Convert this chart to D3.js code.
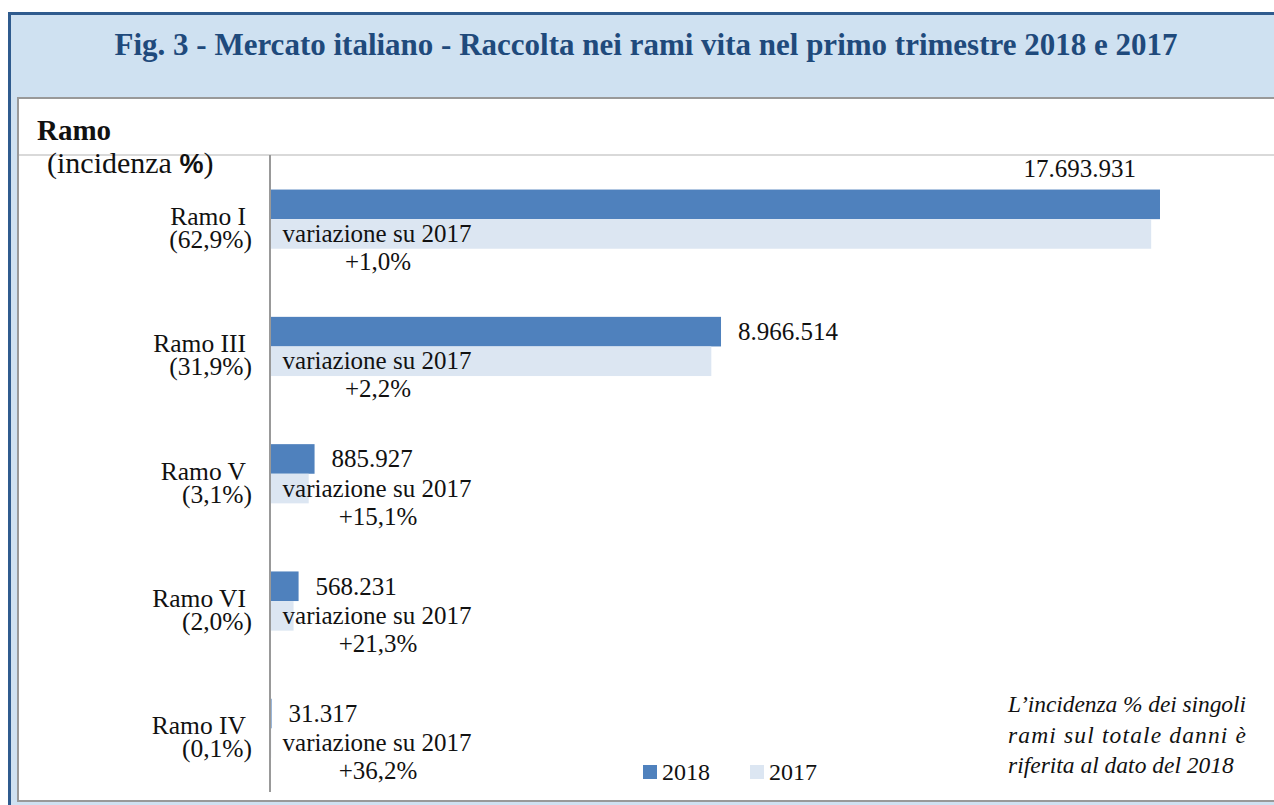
<!DOCTYPE html>
<html>
<head>
<meta charset="utf-8">
<script src="https://cdn.jsdelivr.net/npm/d3@7"></script>
<style>
  html, body { margin: 0; padding: 0; background: #ffffff; }
  svg { display: block; }
  text { font-family: "Liberation Serif", "Times New Roman", serif; fill: #111; }
</style>
</head>
<body>
<svg id="chart" width="1274" height="805"></svg>
<script>
// ---- data ----
const categories = ["Ramo I", "Ramo III", "Ramo V", "Ramo VI", "Ramo IV"];
const incidence = ["(62,9%)", "(31,9%)", "(3,1%)", "(2,0%)", "(0,1%)"];
const values2018 = [17693931, 8966514, 885927, 568231, 31317];
const values2017 = [17518744, 8773497, 769703, 468451, 22993];
const valueLabels2018 = ["17.693.931", "8.966.514", "885.927", "568.231", "31.317"];
const changeLabels = ["+1,0%", "+2,2%", "+15,1%", "+21,3%", "+36,2%"];
const seriesNames = ["2018", "2017"];
const colors = ["#4f81bd", "#dce6f2"];
const titleText = "Fig. 3 - Mercato italiano - Raccolta nei rami vita nel primo trimestre 2018 e 2017";
const noteLines = ["L\u2019incidenza % dei singoli", "rami sul totale danni \u00e8", "riferita al dato del 2018"];

const svg = d3.select("#chart");

// ---- frame ----
svg.append("rect").attr("x", 8).attr("y", 12).attr("width", 1266).attr("height", 793).attr("fill", "#cfe1f1");
svg.append("rect").attr("x", 8).attr("y", 12).attr("width", 1266).attr("height", 3).attr("fill", "#2f5b8e");
svg.append("rect").attr("x", 8).attr("y", 12).attr("width", 3).attr("height", 793).attr("fill", "#2f5b8e");
// inner white panel
svg.append("rect").attr("x", 17).attr("y", 97).attr("width", 1260).attr("height", 705).attr("fill", "#999999");
svg.append("rect").attr("x", 19).attr("y", 99).attr("width", 1258).attr("height", 701).attr("fill", "#ffffff");

// title
svg.append("text")
  .attr("x", 646).attr("y", 55)
  .attr("text-anchor", "middle")
  .style("font-weight", "bold").style("font-size", "31px").style("fill", "#1f4a7c")
  .text(titleText);

// header
svg.append("text").attr("x", 37).attr("y", 140)
  .style("font-weight", "bold").style("font-size", "29px").text("Ramo");
svg.append("line").attr("x1", 19).attr("x2", 1274).attr("y1", 155).attr("y2", 155)
  .attr("stroke", "#d9d9d9").attr("stroke-width", 2);
const inc = svg.append("text").attr("x", 47).attr("y", 173).style("font-size", "30px");
inc.append("tspan").text("(incidenza ");
inc.append("tspan").style("font-weight", "bold").style("font-family", "'Liberation Sans', Arial, sans-serif").style("font-size", "27px").text("%");
inc.append("tspan").text(")");

// ---- scales ----
const x = d3.scaleLinear().domain([0, values2018[0]]).range([270, 1160]);
const y = d3.scaleBand().domain(categories).range([155.5, 792]).paddingInner(0.535).paddingOuter(0.2675);
const ySub = d3.scaleBand().domain(seriesNames).range([0, y.bandwidth()]);

const data = categories.map((c, i) => ({
  cat: c, inc: incidence[i], v18: values2018[i], v17: values2017[i],
  lab: valueLabels2018[i], chg: changeLabels[i]
}));

// bars
const g = svg.append("g");
g.selectAll("rect.b18").data(data).enter().append("rect")
  .attr("x", x(0)).attr("y", d => y(d.cat) + ySub("2018"))
  .attr("width", d => x(d.v18) - x(0)).attr("height", ySub.bandwidth())
  .attr("fill", colors[0]);
g.selectAll("rect.b17").data(data).enter().append("rect")
  .attr("x", x(0)).attr("y", d => y(d.cat) + ySub("2017"))
  .attr("width", d => x(d.v17) - x(0)).attr("height", ySub.bandwidth())
  .attr("fill", colors[1]);

// axis line
svg.append("line").attr("x1", 270).attr("x2", 270).attr("y1", 155).attr("y2", 792)
  .attr("stroke", "#999999").attr("stroke-width", 2);

// category labels (two lines in one text)
data.forEach(d => {
  const cy = y(d.cat) + y.bandwidth() / 2;
  const t = svg.append("text").attr("text-anchor", "end").style("font-size", "25.5px");
  t.append("tspan").attr("x", 246).attr("y", cy + 6).text(d.cat);
  t.append("tspan").attr("x", 252).attr("y", cy + 29).text(d.inc);
});

// 2018 value labels
data.forEach((d, i) => {
  const by = y(d.cat) + ySub("2018");
  if (i === 0) {
    svg.append("text").attr("x", x(d.v18) - 24).attr("y", by - 13).attr("text-anchor", "end")
      .style("font-size", "25px").text(d.lab);
  } else {
    svg.append("text").attr("x", x(d.v18) + 17).attr("y", by + ySub.bandwidth() / 2 + 8.5)
      .style("font-size", "25px").text(d.lab);
  }
});

// change labels (2017 series)
data.forEach(d => {
  const cy = y(d.cat) + ySub("2017") + ySub.bandwidth() / 2;
  const t = svg.append("text").attr("text-anchor", "middle").style("font-size", "25px");
  t.append("tspan").attr("x", x(0) + 107).attr("y", cy + 8).text("variazione su 2017");
  t.append("tspan").attr("x", x(0) + 108).attr("y", cy + 36).text(d.chg);
});

// legend
const leg = svg.append("g");
seriesNames.forEach((s, i) => {
  const lx = 643 + i * 107;
  leg.append("rect").attr("x", lx).attr("y", 765).attr("width", 14).attr("height", 14).attr("fill", colors[i]);
  leg.append("text").attr("x", lx + 19).attr("y", 780).style("font-size", "24px").text(s);
});

// note
noteLines.forEach((t, i) => {
  const el = svg.append("text").attr("x", 1008).attr("y", 712 + i * 30.5)
    .style("font-style", "italic").style("font-size", "23.5px").text(t);
  if (i < 2) el.attr("textLength", 238).attr("lengthAdjust", "spacing");
});
</script>
</body>
</html>
